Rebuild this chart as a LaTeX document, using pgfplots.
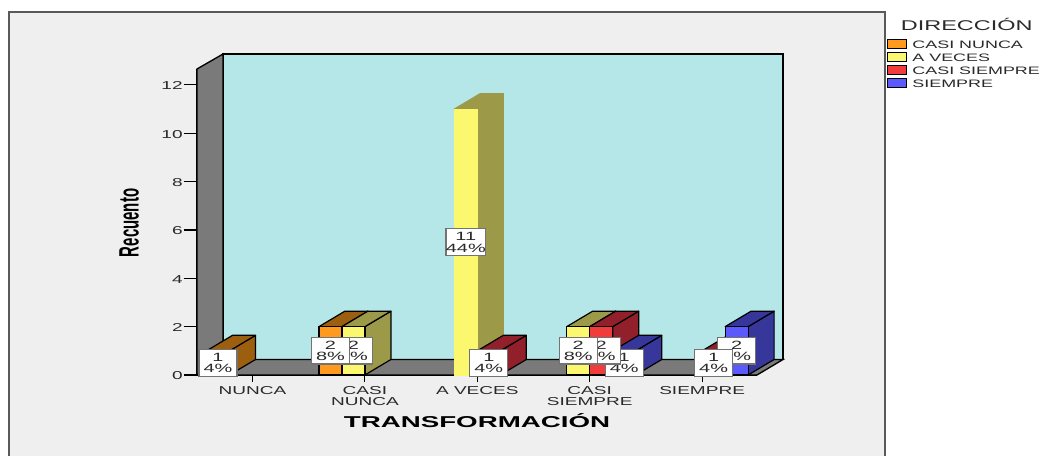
\documentclass[border=0pt]{standalone}
\usepackage{fontspec}
\setmainfont{Liberation Sans}[FakeStretch=1.66]
\newfontfamily\titlefont{Liberation Sans}[FakeStretch=1.76]
\newfontfamily\recfont{Liberation Sans}[FakeStretch=0.535]
\usepackage{pgfplots}
\pgfplotsset{compat=1.18}
\definecolor{panel}{HTML}{EFEFEF}
\definecolor{wallc}{HTML}{7A7A7A}
\definecolor{backc}{HTML}{B5E6E8}
\definecolor{txt}{HTML}{2A2A2A}
\definecolor{ofront}{HTML}{FF9A1E}
\definecolor{oside}{HTML}{9C5F10}
\definecolor{yfront}{HTML}{FBF870}
\definecolor{yside}{HTML}{9C9A48}
\definecolor{rfront}{HTML}{F23B3B}
\definecolor{rside}{HTML}{92202A}
\definecolor{bfront}{HTML}{5A5AFF}
\definecolor{bside}{HTML}{37379B}
\tikzset{vlabel/.style={draw=black!55,fill=white,line width=1pt,align=center,inner sep=0pt,minimum width=28.5pt,minimum height=20pt,
    font=\fontsize{9pt}{8.8pt}\selectfont,text=txt}}
% #1 category, #2 series slot, #3 value, #4 front, #5 side, #6 front line colour, #7 side line colour
\newcommand\barthreed[7]{%
  \pgfmathsetmacro\xl{#1+(#2)*0.2046}%
  \pgfmathsetmacro\xc{\xl+0.1023}%
  \pgfmathsetmacro\xr{\xl+0.2046}%
  \pgfmathsetmacro\xlb{\xl+0.2313}%
  \pgfmathsetmacro\xrb{\xr+0.2313}%
  \pgfmathsetmacro\yt{#3+0.641}%
  \addplot[forget plot,fill=#5,draw=#7,line width=0.9pt,line join=round] coordinates {(\xr,0) (\xrb,0.641) (\xrb,\yt) (\xr,#3)} -- cycle;
  \addplot[forget plot,fill=#5,draw=#7,line width=0.9pt,line join=round] coordinates {(\xl,#3) (\xlb,\yt) (\xrb,\yt) (\xr,#3)} -- cycle;
  \addplot[forget plot,ybar,bar width=17.25pt,bar shift=0pt,fill=#4,draw=#6,line width=0.9pt] coordinates {(\xc,#3)};
}
% #1 category, #2 series slot, #3 value, #4 percent
\newcommand\barlabel[4]{%
  \pgfmathsetmacro\xc{#1+(#2)*0.2046+0.1023}%
  \pgfmathsetmacro\yc{(#3)/2}%
  \edef\temp{\noexpand\node[vlabel] at (axis cs:\xc,\yc) {#3\noexpand\\#4\noexpand\%};}\temp
}
\begin{document}
\begin{tikzpicture}
\path[use as bounding box] (0pt,0pt) rectangle (782.25pt,342pt);
\fill[white] (0pt,0pt) rectangle (782.25pt,342pt);
\begin{scope}
\clip (0pt,0pt) rectangle (782.25pt,342pt);
\draw[draw=black!65,line width=1.2pt,fill=panel] (6.75pt,-5pt) rectangle (663.75pt,333pt);
\end{scope}
\node[anchor=center,font=\fontsize{10.6pt}{12pt}\selectfont,text=txt] at (725pt,323.5pt) {DIRECCIÓN};
\begin{axis}[
  at={(147.75pt,60.75pt)},anchor=south west,
  scale only axis,width=420pt,height=229.5pt,
  xmin=-0.4938,xmax=4.4884,ymin=0,ymax=12.66,
  clip=false,
  axis x line*=bottom,axis y line*=left,
  axis line style={line width=1pt,black,-},
  xtick={0,1,2,3,4},
  xticklabels={NUNCA,{CASI\\NUNCA},A VECES,{CASI\\SIEMPRE},SIEMPRE},
  ytick={0,2,4,6,8,10,12},
  tick align=outside,
  x tick style={black,line width=0.8pt,/pgfplots/major tick length=5.5pt},
  y tick style={black,line width=0.8pt,/pgfplots/major tick length=10pt},
  /pgf/number format/assume math mode=true,
  tick label style={font=\fontsize{8.6pt}{8.3pt}\selectfont,text=txt},
  xticklabel style={align=center,yshift=-0.5pt},
  yticklabel style={xshift=-3pt,yshift=-0.7pt},
  xlabel={TRANSFORMACIÓN},
  xlabel style={at={(axis description cs:0.5,-0.150)},anchor=center,font=\titlefont\bfseries\fontsize{11.8pt}{13pt}\selectfont,text=black},
  ylabel={Recuento},
  ylabel style={at={(axis description cs:-0.1214,0.497)},anchor=center,font=\recfont\bfseries\fontsize{21pt}{22pt}\selectfont,text=black},
  legend cell align=left,
  legend style={at={(axis description cs:1.232,1.100)},anchor=north west,draw=none,fill=none,inner sep=0pt,outer sep=0pt,
    font=\fontsize{8.1pt}{9pt}\selectfont,text=txt,row sep=0pt,
    nodes={inner sep=0pt,outer sep=0pt,text height=7.3pt,text depth=2.45pt}},
  legend image code/.code={\draw[#1,line width=0.8pt] (0pt,-2.6pt) rectangle (14pt,4pt);\path (18.5pt,0pt);},
]
\addlegendimage{fill=ofront,draw=black}\addlegendentry{CASI NUNCA}
\addlegendimage{fill=yfront,draw=black}\addlegendentry{A VECES}
\addlegendimage{fill=rfront,draw=black}\addlegendentry{CASI SIEMPRE}
\addlegendimage{fill=bfront,draw=black}\addlegendentry{SIEMPRE}
% walls and floor
\addplot[forget plot,fill=backc,draw=black,line width=1pt] coordinates {(-0.2625,0.641) (-0.2625,13.28) (4.72,13.28) (4.72,0.641)} -- cycle;
\addplot[forget plot,fill=wallc,draw=black,line width=1pt] coordinates {(-0.4938,0) (-0.4938,12.66) (-0.2625,13.28) (-0.2625,0.641)} -- cycle;
\addplot[forget plot,fill=wallc,draw=black,line width=1pt] coordinates {(-0.4938,0) (-0.2625,0.641) (4.72,0.641) (4.4884,0)} -- cycle;
% bars, left to right
\barthreed{0}{-2}{1}{ofront}{oside}{black}{black}
\barthreed{1}{-2}{2}{ofront}{oside}{black}{black}
\barthreed{1}{-1}{2}{yfront}{yside}{black}{black}
\barthreed{2}{-1}{11}{yfront}{yside}{yfront}{yside}
\barthreed{2}{0}{1}{rfront}{rside}{black}{black}
\barthreed{3}{-1}{2}{yfront}{yside}{black}{black}
\barthreed{3}{0}{2}{rfront}{rside}{black}{black}
\barthreed{3}{1}{1}{bfront}{bside}{black}{black}
\barthreed{4}{0}{1}{rfront}{rside}{black}{black}
\barthreed{4}{1}{2}{bfront}{bside}{black}{black}
% value labels, right to left
\barlabel{4}{1}{2}{8}
\barlabel{4}{0}{1}{4}
\barlabel{3}{1}{1}{4}
\barlabel{3}{0}{2}{8}
\barlabel{3}{-1}{2}{8}
\barlabel{2}{0}{1}{4}
\barlabel{2}{-1}{11}{44}
\barlabel{1}{-1}{2}{8}
\barlabel{1}{-2}{2}{8}
\barlabel{0}{-2}{1}{4}
\end{axis}
\end{tikzpicture}
\end{document}
